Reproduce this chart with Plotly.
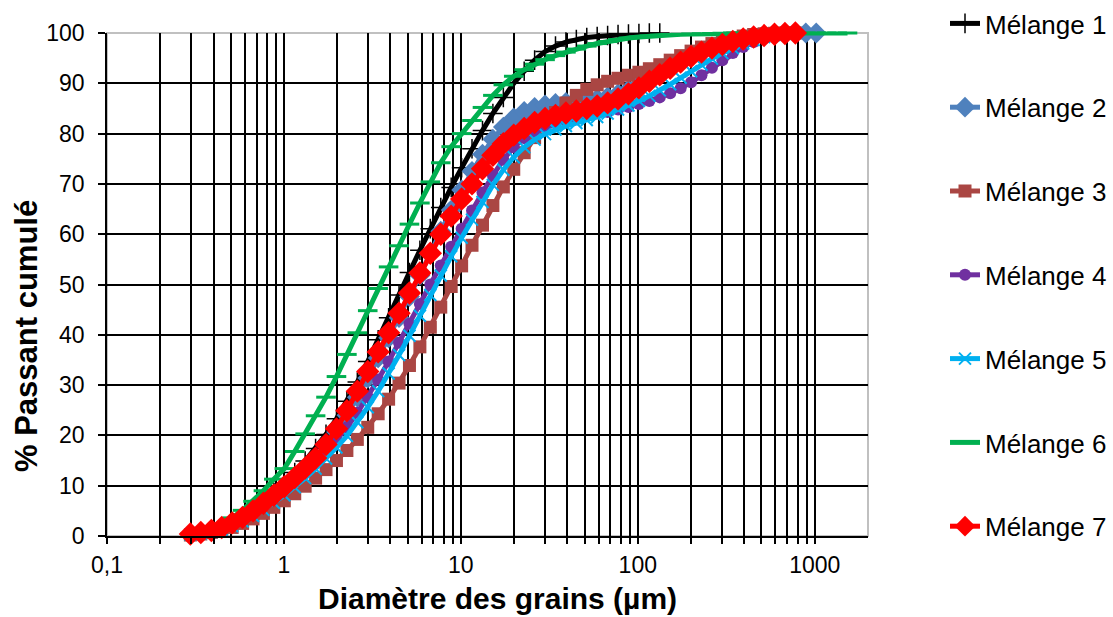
import math
import plotly.graph_objects as go

# Particle-size classes (µm)
diam = [0.296, 0.339, 0.389, 0.445, 0.510, 0.584, 0.669, 0.766, 0.877, 1.005,
        1.151, 1.318, 1.510, 1.729, 1.981, 2.269, 2.599, 2.976, 3.409, 3.905,
        4.472, 5.122, 5.867, 6.720, 7.697, 8.816, 10.10, 11.56, 13.25, 15.17,
        17.38, 19.90, 22.80, 26.11, 29.91, 34.26, 39.24, 44.94, 51.47, 58.95,
        67.52, 77.33, 88.58, 101.46, 116.21, 133.10, 152.45, 174.62, 200.00, 229.07,
        262.36, 300.51, 344.21, 394.24, 451.56, 517.20, 592.39, 678.50, 777.14, 890.12,
        1019.52, 1167.72, 1337.48, 1531.91]

m1 = [0.4, 0.7, 1.1, 1.7, 2.6, 3.8, 5.2, 6.8, 8.6, 10.5,
      12.6, 14.9, 17.4, 20.2, 23.3, 26.8, 30.6, 34.7, 39.0, 43.4,
      47.9, 52.4, 56.8, 61.1, 65.3, 69.3, 73.2, 77.0, 80.6, 84.0,
      87.2, 90.0, 92.4, 94.6, 96.3, 97.4, 98.2, 98.7, 99.1, 99.3,
      99.5, 99.7, 99.8, 99.9, 100, 100]

m2 = [0.4, 0.7, 1.1, 1.7, 2.6, 3.7, 5.0, 6.5, 8.1, 9.8,
      11.6, 13.5, 15.6, 18.0, 20.7, 24.0, 27.6, 31.4, 35.4, 39.4,
      43.4, 47.6, 51.8, 56.2, 60.6, 64.8, 68.8, 72.5, 75.9, 78.9,
      81.3, 83.1, 84.4, 85.2, 85.7, 86.0, 86.2, 86.4, 86.6, 86.9,
      87.3, 87.9, 88.7, 89.7, 90.8, 92.0, 93.2, 94.3, 95.3, 96.2,
      97.0, 97.7, 98.3, 98.8, 99.2, 99.5, 99.7, 99.85, 99.95, 100, 100]

m3 = [0.2, 0.4, 0.7, 1.1, 1.7, 2.5, 3.4, 4.5, 5.7, 7.0,
      8.4, 9.9, 11.5, 13.2, 15.0, 17.0, 19.2, 21.6, 24.3, 27.2,
      30.4, 33.9, 37.6, 41.5, 45.5, 49.6, 53.7, 57.8, 61.8, 65.7,
      69.4, 72.9, 76.2, 79.2, 81.9, 84.2, 86.1, 87.6, 88.8, 89.7,
      90.4, 91.0, 91.6, 92.2, 92.9, 93.7, 94.6, 95.5, 96.4, 97.2,
      97.9, 98.5, 99.0, 99.4, 99.7, 99.85, 99.95, 100, 100]

m4 = [0.3, 0.6, 0.9, 1.5, 2.3, 3.3, 4.5, 5.9, 7.4, 9.0,
      10.8, 12.7, 14.7, 16.8, 19.1, 21.6, 24.5, 27.7, 31.1, 34.7,
      38.4, 42.2, 46.1, 50.0, 53.8, 57.5, 61.1, 64.7, 68.3, 71.7,
      74.8, 77.3, 79.1, 80.4, 81.3, 82.0, 82.6, 83.1, 83.5, 84.0,
      84.3, 84.8, 85.3, 85.9, 86.5, 87.2, 88.0, 89.0, 90.2, 91.6,
      93.1, 94.6, 96.0, 97.2, 98.2, 98.9, 99.5, 99.8, 100]

m5 = [0.3, 0.5, 0.8, 1.3, 2.0, 2.9, 4.0, 5.2, 6.6, 8.1,
      9.7, 11.5, 13.4, 15.4, 17.6, 19.9, 22.6, 25.6, 28.8, 32.3,
      36.0, 39.8, 43.8, 47.9, 51.8, 55.6, 59.3, 62.9, 66.4, 69.8,
      72.8, 75.3, 77.3, 78.8, 79.9, 80.8, 81.5, 82.1, 82.7, 83.3,
      84.0, 84.8, 85.6, 86.5, 87.5, 88.6, 89.8, 91.1, 92.4, 93.7,
      94.9, 96.0, 97.0, 97.9, 98.6, 99.2, 99.6, 99.85, 100]

m6 = [0.5, 0.9, 1.5, 2.4, 3.6, 5.1, 6.9, 9.0, 11.3, 13.4,
      16.8, 20.3, 23.9, 27.6, 31.7, 36.1, 40.4, 44.8, 49.2, 53.5,
      57.7, 62.0, 66.2, 70.4, 74.2, 77.4, 80.0, 82.6, 85.2, 87.6,
      89.7, 91.4, 92.7, 93.8, 94.7, 95.5, 96.2, 96.8, 97.4, 97.9,
      98.3, 98.7, 99.0, 99.2, 99.4, 99.55, 99.65, 99.75, 99.8, 99.85,
      99.9, 99.95, 100, 100, 100, 100, 100, 100, 100, 100,
      100, 100, 100, 100]

m7 = [0.4, 0.7, 1.1, 1.7, 2.6, 3.7, 5.0, 6.5, 8.1, 9.8,
      11.6, 13.5, 15.5, 18.2, 21.3, 24.9, 28.8, 32.7, 36.6, 40.4,
      44.3, 48.3, 52.3, 56.2, 60.0, 63.6, 67.0, 70.0, 73.0, 75.7,
      78.0, 79.7, 81.0, 82.2, 83.0, 83.6, 84.1, 84.5, 85.0, 85.5,
      86.1, 86.9, 87.9, 89.1, 90.4, 91.7, 93.0, 94.2, 95.3, 96.2,
      97.0, 97.7, 98.3, 98.8, 99.2, 99.5, 99.75, 99.9, 100]

names = ["Mélange 1", "Mélange 2", "Mélange 3", "Mélange 4", "Mélange 5", "Mélange 6", "Mélange 7"]
values = [m1, m2, m3, m4, m5, m6, m7]
colors = ["#000000", "#4F81BD", "#AA4643", "#7030A0", "#00B0F0", "#00B050", "#FF0000"]
symbols = ["cross-thin", "diamond", "square", "circle", "x-thin", "line-ew", "diamond"]
msizes = [14, 16, 13, 12, 12, 14, 18]
mlines = [1.5, 0, 0, 0, 2, 3, 0]

x_tickvals = [0.1, 1, 10, 100, 1000]
x_ticktext = ["0,1", "1", "10", "100", "1000"]
x_minor = [m * 10 ** e for e in (-1, 0, 1, 2) for m in range(2, 10)]
y_tickvals = list(range(0, 101, 10))

FONT = "Liberation Sans, Arial, sans-serif"

fig = go.Figure()
for name, ys, col, sym, ms, ml in zip(names, values, colors, symbols, msizes, mlines):
    fig.add_trace(go.Scatter(
        x=diam[:len(ys)], y=ys, name=name, legendgroup=name,
        mode="lines+markers", cliponaxis=False,
        line=dict(color=col, width=5),
        marker=dict(symbol=sym, size=ms, color=col, line=dict(color=col, width=ml)),
    ))

fig.update_layout(
    width=1113, height=617,
    margin=dict(l=107, r=245, t=33, b=81),
    paper_bgcolor="white", plot_bgcolor="white",
    font=dict(family=FONT, color="black"),
    showlegend=True,
    legend=dict(
        xref="container", yref="container",
        x=945 / 1113, y=1.0, xanchor="left", yanchor="top",
        font=dict(family=FONT, size=26, color="black"),
        traceorder="grouped", tracegroupgap=47,
        maxheight=617,
        bgcolor="rgba(0,0,0,0)",
    ),
    xaxis=dict(
        type="log", range=[-1, math.log10(2000)],
        tickvals=x_tickvals, ticktext=x_ticktext,
        showgrid=True, gridcolor="black", gridwidth=1.5,
        ticks="outside", ticklen=6, tickwidth=1.5, tickcolor="black",
        showline=True, linecolor="black", linewidth=1.5,
        zeroline=False,
        tickfont=dict(family=FONT, size=23, color="black"),
        ticklabelstandoff=2,
        minor=dict(tickvals=x_minor, showgrid=True, gridcolor="black", gridwidth=1.5,
                   ticks="outside", ticklen=6, tickwidth=1.5, tickcolor="black"),
    ),
    yaxis=dict(
        range=[0, 100], tickvals=y_tickvals,
        showgrid=True, gridcolor="black", gridwidth=1.5,
        ticks="outside", ticklen=7, tickwidth=1.5, tickcolor="black",
        showline=True, linecolor="black", linewidth=1.5,
        zeroline=False,
        tickfont=dict(family=FONT, size=23, color="black"),
        ticklabelstandoff=9,
    ),
    shapes=[dict(type="rect", xref="paper", yref="paper", x0=0, y0=0, x1=1, y1=1,
                 line=dict(color="#C0C0C0", width=2), layer="between")],
    annotations=[
        dict(text="<b>Diamètre des grains (µm)</b>", xref="paper", yref="paper",
             x=(497 - 107) / 761, y=(536 - 598) / 503, showarrow=False,
             xanchor="center", yanchor="middle",
             font=dict(family=FONT, size=30, color="black")),
        dict(text="<b>% Passant cumulé</b>", xref="paper", yref="paper",
             x=(26 - 107) / 761, y=(536 - 336) / 503, showarrow=False, textangle=-90,
             xanchor="center", yanchor="middle",
             font=dict(family=FONT, size=31, color="black")),
    ],
)

fig.write_html("out.html")
